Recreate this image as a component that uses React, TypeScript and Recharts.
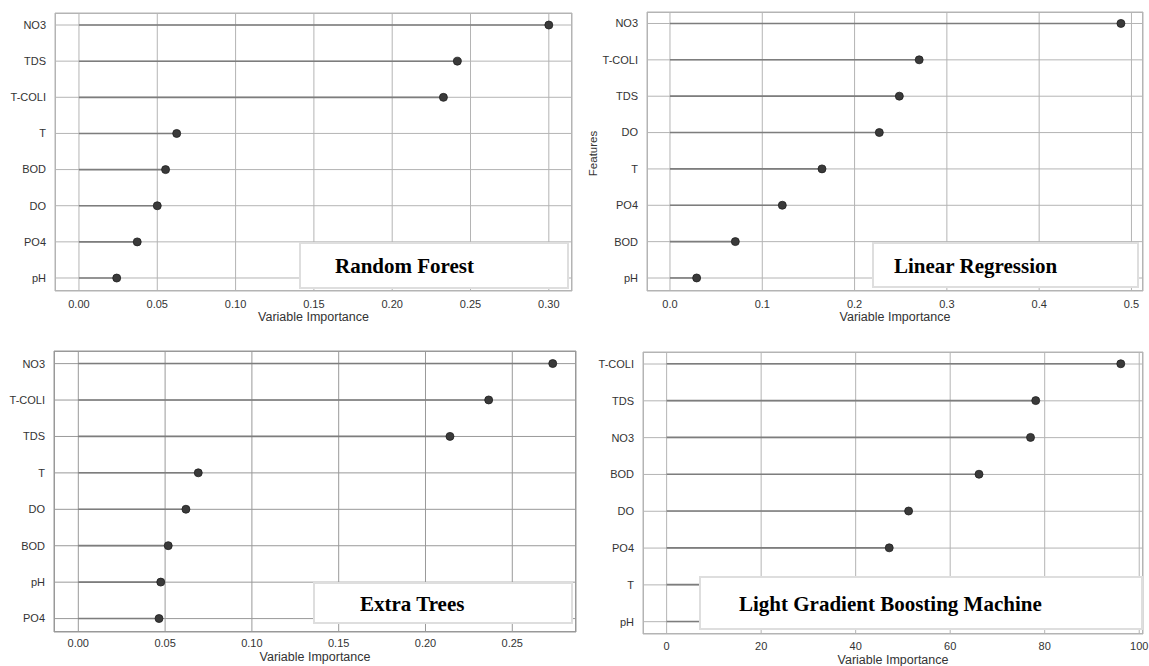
import React from 'react';
import { BarChart, Bar, XAxis, YAxis, CartesianGrid } from 'recharts';

// Random Forest
const rfFeatures = ['NO3', 'TDS', 'T-COLI', 'T', 'BOD', 'DO', 'PO4', 'pH'];
const rfValues = [0.3, 0.2416, 0.2327, 0.0624, 0.0553, 0.05, 0.0372, 0.0241];
const rfTicks = [0, 0.05, 0.1, 0.15, 0.2, 0.25, 0.3];

// Linear Regression
const lrFeatures = ['NO3', 'T-COLI', 'TDS', 'DO', 'T', 'PO4', 'BOD', 'pH'];
const lrValues = [0.4886, 0.27, 0.2485, 0.2268, 0.1647, 0.1217, 0.0708, 0.0289];
const lrTicks = [0, 0.1, 0.2, 0.3, 0.4, 0.5];

// Extra Trees
const etFeatures = ['NO3', 'T-COLI', 'TDS', 'T', 'DO', 'BOD', 'pH', 'PO4'];
const etValues = [0.2733, 0.2364, 0.2141, 0.0691, 0.062, 0.0518, 0.0475, 0.0465];
const etTicks = [0, 0.05, 0.1, 0.15, 0.2, 0.25];

// Light Gradient Boosting Machine (T and pH are hidden behind the label box)
const lgbmFeatures = ['T-COLI', 'TDS', 'NO3', 'BOD', 'DO', 'PO4', 'T', 'pH'];
const lgbmValues = [96.1, 78.1, 77.0, 66.1, 51.2, 47.1, 30, 22];
const lgbmTicks = [0, 20, 40, 60, 80, 100];

const SANS = '"Liberation Sans", Arial, sans-serif';
const SERIF = '"Liberation Serif", "Times New Roman", serif';

function Lollipop(props: any) {
  const { x, y, width, height } = props;
  const cy = y + height / 2;
  return (
    <g>
      <line x1={x} y1={cy} x2={x + width} y2={cy} stroke="#7d7d7d" strokeWidth={1.6} />
      <circle cx={x + width} cy={cy} r={4} fill="#3a3a3a" stroke="#1f1f1f" strokeWidth={0.8} />
    </g>
  );
}

interface PanelProps {
  left: number;
  top: number;
  width: number;
  height: number;
  marginTop: number;
  marginRight: number;
  yWidth: number;
  xHeight: number;
  features: string[];
  values: number[];
  ticks: number[];
  domain: [number, number];
  digits: number;
  padTop: number;
  padBottom: number;
  tickGap: number;
  labelOffset: number;
  gridColor: string;
  title: string;
  box: { left: number; top: number; width: number; height: number; pad: number };
  featuresLabel?: boolean;
}

function Panel(p: PanelProps) {
  const data = p.features.map((name, i) => ({ name, value: p.values[i] }));
  const plotW = p.width - p.marginRight - p.yWidth;
  const plotH = p.height - p.marginTop - p.xHeight;

  return (
    <div style={{ position: 'absolute', left: p.left, top: p.top, width: p.width, height: p.height }}>
      <BarChart
        width={p.width}
        height={p.height}
        data={data}
        layout="vertical"
        margin={{ top: p.marginTop, right: p.marginRight, bottom: 0, left: 0 }}
      >
        <CartesianGrid stroke={p.gridColor} strokeWidth={1} />
        <XAxis
          type="number"
          dataKey="value"
          domain={p.domain}
          ticks={p.ticks}
          allowDataOverflow
          height={p.xHeight}
          axisLine={false}
          tickLine={false}
          tickSize={0}
          tickMargin={p.tickGap}
          tick={{ fontSize: 11, fill: '#333' }}
          tickFormatter={(v: number) => v.toFixed(p.digits)}
          label={{
            value: 'Variable Importance',
            position: 'insideBottom',
            offset: p.labelOffset,
            fontSize: 12.5,
            fill: '#333',
          }}
        />
        <YAxis
          type="category"
          dataKey="name"
          width={p.yWidth}
          axisLine={false}
          tickLine={false}
          tickSize={0}
          tickMargin={9}
          padding={{ top: p.padTop, bottom: p.padBottom }}
          tick={{ fontSize: 11, fill: '#333' }}
          label={
            p.featuresLabel
              ? {
                  content: (lp: any) => {
                    const vb = lp.viewBox || {};
                    const cx = (vb.x ?? 0) + 13;
                    const cy = (vb.y ?? 0) + (vb.height ?? 0) / 2 + 2;
                    return (
                      <text
                        x={cx}
                        y={cy}
                        transform={`rotate(-90 ${cx} ${cy})`}
                        textAnchor="middle"
                        dominantBaseline="central"
                        fontSize={11.5}
                        fill="#333"
                      >
                        Features
                      </text>
                    );
                  },
                }
              : undefined
          }
        />
        <Bar dataKey="value" shape={<Lollipop />} isAnimationActive={false} />
      </BarChart>
      <div
        style={{
          position: 'absolute',
          left: p.yWidth,
          top: p.marginTop,
          width: plotW,
          height: plotH,
          border: `1.5px solid ${p.gridColor}`,
          boxSizing: 'border-box',
          pointerEvents: 'none',
        }}
      />
      <div
        style={{
          position: 'absolute',
          left: p.box.left - p.left,
          top: p.box.top - p.top,
          width: p.box.width,
          height: p.box.height,
          boxSizing: 'border-box',
          background: '#fff',
          border: '2px solid #dedede',
          display: 'flex',
          alignItems: 'center',
          paddingLeft: p.box.pad,
          paddingTop: 2,
          fontFamily: SERIF,
          fontWeight: 'bold',
          fontSize: 21,
          color: '#000',
          whiteSpace: 'nowrap',
        }}
      >
        {p.title}
      </div>
    </div>
  );
}

export default function App() {
  return (
    <div
      style={{
        position: 'absolute',
        left: 0,
        top: 0,
        width: 1149,
        height: 666,
        background: '#fff',
        fontFamily: SANS,
        overflow: 'hidden',
      }}
    >
      <Panel
        left={0}
        top={0}
        width={580}
        height={330}
        marginTop={13}
        marginRight={8}
        yWidth={55}
        xHeight={39}
        features={rfFeatures}
        values={rfValues}
        ticks={rfTicks}
        domain={[-0.0153, 0.3148]}
        digits={2}
        padTop={-6.07}
        padBottom={-5.07}
        tickGap={9}
        labelOffset={9}
        gridColor="#b4b4b4"
        title="Random Forest"
        box={{ left: 299, top: 242, width: 270, height: 47, pad: 34 }}
      />
      <Panel
        left={580}
        top={0}
        width={569}
        height={330}
        marginTop={12}
        marginRight={6}
        yWidth={67}
        xHeight={39}
        features={lrFeatures}
        values={lrValues}
        ticks={lrTicks}
        domain={[-0.0249, 0.5125]}
        digits={1}
        padTop={-6.68}
        padBottom={-5.18}
        tickGap={9}
        labelOffset={9}
        gridColor="#b4b4b4"
        title="Linear Regression"
        box={{ left: 872, top: 242, width: 267, height: 46, pad: 20 }}
        featuresLabel
      />
      <Panel
        left={0}
        top={330}
        width={580}
        height={336}
        marginTop={21}
        marginRight={4}
        yWidth={54}
        xHeight={34}
        features={etFeatures}
        values={etValues}
        ticks={etTicks}
        domain={[-0.014, 0.2867]}
        digits={2}
        padTop={-5.6}
        padBottom={-4.8}
        tickGap={7}
        labelOffset={5}
        gridColor="#999999"
        title="Extra Trees"
        box={{ left: 313, top: 582, width: 260, height: 42, pad: 45 }}
      />
      <Panel
        left={580}
        top={330}
        width={569}
        height={336}
        marginTop={22}
        marginRight={6}
        yWidth={63}
        xHeight={32}
        features={lgbmFeatures}
        values={lgbmValues}
        ticks={lgbmTicks}
        domain={[-5, 100.8]}
        digits={0}
        padTop={-6.39}
        padBottom={-6.09}
        tickGap={8}
        labelOffset={2}
        gridColor="#b4b4b4"
        title="Light Gradient Boosting Machine"
        box={{ left: 699, top: 576, width: 444, height: 54, pad: 38 }}
      />
    </div>
  );
}
